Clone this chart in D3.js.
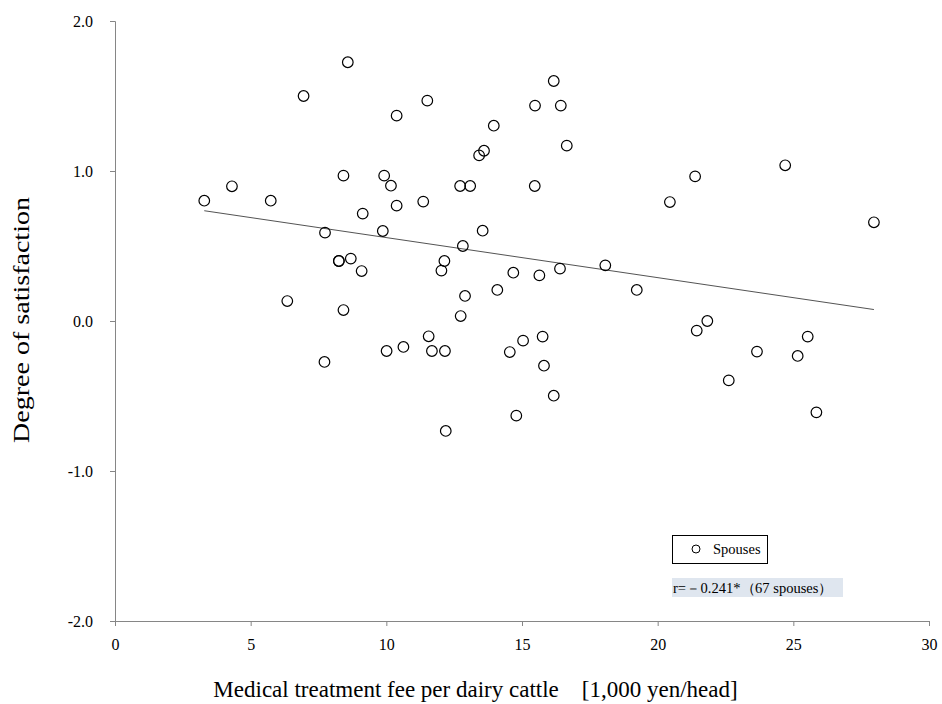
<!DOCTYPE html>
<html><head><meta charset="utf-8">
<script src="https://cdn.jsdelivr.net/npm/d3@7"></script>
<style>body{margin:0;background:#fff}svg{display:block}text{font-family:"Liberation Serif","Times New Roman",serif}</style>
</head><body><svg id="c" width="942" height="704"></svg>
<script>
const feeX = [8.58,6.95,11.51,10.38,8.42,9.92,10.17,4.31,3.29,5.74,10.38,11.36,9.13,
 16.17,15.48,16.43,13.96,13.60,13.42,16.65,12.72,13.09,15.47,13.55,12.82,
 7.74,9.87,8.25,8.25,8.69,9.09,6.35,8.42,11.56,10.01,10.63,11.68,7.72,
 12.14,12.03,14.68,15.64,16.40,18.07,19.23,14.09,12.90,12.74,12.16,14.55,15.04,15.76,15.81,16.17,14.79,12.19,
 24.70,21.38,20.45,27.97,21.83,21.44,25.53,23.66,25.16,22.62,25.85];
const satisfactionY = [1.725,1.50,1.469,1.369,0.969,0.969,0.902,0.898,0.802,0.802,0.769,0.796,0.716,
 1.60,1.436,1.436,1.302,1.135,1.104,1.169,0.90,0.90,0.90,0.602,0.50,
 0.589,0.60,0.40,0.40,0.416,0.333,0.133,0.073,-0.102,-0.20,-0.173,-0.20,-0.273,
 0.40,0.336,0.322,0.304,0.349,0.371,0.207,0.207,0.167,0.033,-0.20,-0.207,-0.131,-0.104,-0.298,-0.498,-0.631,-0.733,
 1.038,0.964,0.793,0.658,0.0,-0.064,-0.104,-0.204,-0.233,-0.396,-0.609];
const xTicks = [0,5,10,15,20,25,30];
const yTicks = [2,1,0,-1,-2];
const seriesName = "Spouses";
const statText = "r=－0.241*（67 spouses）";
const xTitle = "Medical treatment fee per dairy cattle　[1,000 yen/head]";
const yTitle = "Degree of satisfaction";

const svg = d3.select("#c");
const L=115,R=929,T=21,B=621;
const x = d3.scaleLinear().domain([0,30]).range([L,R]);
const y = d3.scaleLinear().domain([-2,2]).range([B,T]);
const axisCol="#868686";

const gx = svg.append("g").attr("transform",`translate(0,${B})`)
  .call(d3.axisBottom(x).tickValues(xTicks).tickSize(5).tickPadding(13).tickFormat(d3.format("d")));
const gy = svg.append("g").attr("transform",`translate(${L},0)`)
  .call(d3.axisLeft(y).tickValues(yTicks).tickSize(5).tickPadding(17).tickFormat(d=>d3.format(".1f")(d).replace("−","-")));
[gx,gy].forEach(g=>{
  g.attr("font-family",null).attr("font-size",null);
  g.select(".domain").attr("stroke",axisCol).attr("stroke-width",1);
  g.selectAll(".tick line").attr("stroke",axisCol);
  g.selectAll(".tick text").attr("fill","#000").attr("font-size",16);
});

// regression line from data
const n=feeX.length, mx=d3.mean(feeX), my=d3.mean(satisfactionY);
let sxy=0,sxx=0; for(let i=0;i<n;i++){sxy+=(feeX[i]-mx)*(satisfactionY[i]-my);sxx+=(feeX[i]-mx)**2;}
const b=sxy/sxx, a=my-b*mx;
const x0=d3.min(feeX), x1=d3.max(feeX);
svg.append("line").attr("x1",x(x0)).attr("y1",y(a+b*x0)).attr("x2",x(x1)).attr("y2",y(a+b*x1))
  .attr("stroke","#404040").attr("stroke-width",0.9);

svg.append("g").selectAll("circle").data(feeX.map((v,i)=>[v,satisfactionY[i]])).join("circle")
  .attr("cx",d=>x(d[0])).attr("cy",d=>y(d[1])).attr("r",5.3)
  .attr("fill","none").attr("stroke","#000").attr("stroke-width",1.2);

// legend
svg.append("rect").attr("x",672.5).attr("y",535.5).attr("width",95).attr("height",28)
  .attr("fill","#fff").attr("stroke","#000").attr("stroke-width",1);
svg.append("circle").attr("cx",696).attr("cy",549).attr("r",4).attr("fill","none").attr("stroke","#000").attr("stroke-width",1);
svg.append("text").attr("x",713).attr("y",554).attr("font-size",14.5).text(seriesName);

svg.append("rect").attr("x",672).attr("y",578).attr("width",171).attr("height",19).attr("fill","#dfe6ef");
svg.append("text").attr("x",673).attr("y",592.5).attr("font-size",14).attr("textLength",160).attr("lengthAdjust","spacingAndGlyphs").text(statText);

svg.append("text").attr("x",475.5).attr("y",697).attr("text-anchor","middle").attr("font-size",23).text(xTitle);
svg.append("text").attr("transform","translate(29,320) rotate(-90)").attr("text-anchor","middle").attr("font-size",23)
  .attr("textLength",246).attr("lengthAdjust","spacingAndGlyphs").text(yTitle);
</script></body></html>
